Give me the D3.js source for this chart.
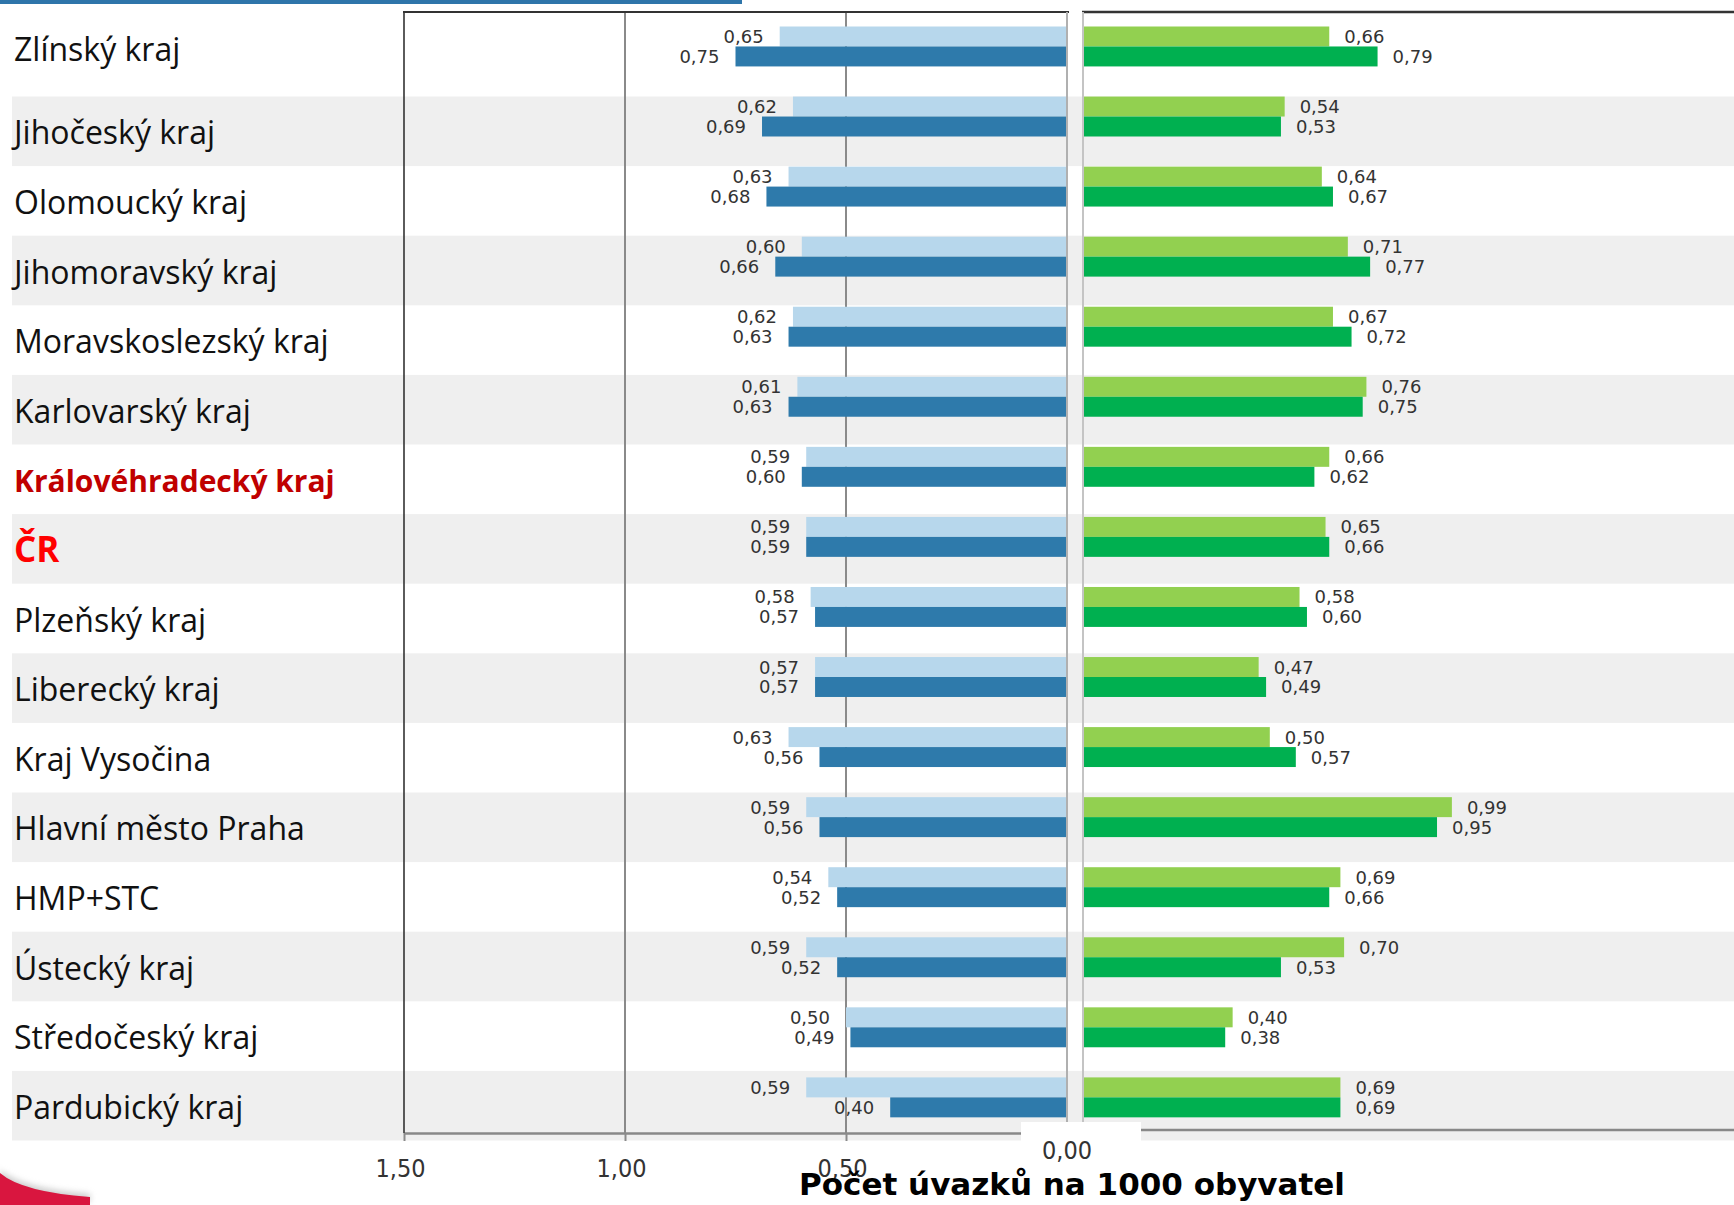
<!DOCTYPE html>
<html><head><meta charset="utf-8">
<script src="https://cdn.jsdelivr.net/npm/d3@7"></script>
<style>
html,body{margin:0;padding:0;background:#fff;}
svg{display:block;}
</style></head><body>
<svg id="chart" width="1734" height="1205"></svg>
<script>
// Regions (top to bottom) and the four values shown for each
const regions = ["Zlínský kraj", "Jihočeský kraj", "Olomoucký kraj", "Jihomoravský kraj",
  "Moravskoslezský kraj", "Karlovarský kraj", "Královéhradecký kraj", "ČR", "Plzeňský kraj",
  "Liberecký kraj", "Kraj Vysočina", "Hlavní město Praha", "HMP+STC", "Ústecký kraj",
  "Středočeský kraj", "Pardubický kraj"];
const blueLight  = [0.65, 0.62, 0.63, 0.60, 0.62, 0.61, 0.59, 0.59, 0.58, 0.57, 0.63, 0.59, 0.54, 0.59, 0.50, 0.59];
const blueDark   = [0.75, 0.69, 0.68, 0.66, 0.63, 0.63, 0.60, 0.59, 0.57, 0.57, 0.56, 0.56, 0.52, 0.52, 0.49, 0.40];
const greenLight = [0.66, 0.54, 0.64, 0.71, 0.67, 0.76, 0.66, 0.65, 0.58, 0.47, 0.50, 0.99, 0.69, 0.70, 0.40, 0.69];
const greenDark  = [0.79, 0.53, 0.67, 0.77, 0.72, 0.75, 0.62, 0.66, 0.60, 0.49, 0.57, 0.95, 0.66, 0.53, 0.38, 0.69];
const leftTicks = [1.5, 1.0, 0.5];
const leftGrid = [1.0, 0.5];
const zeroTick = 0;
const axisTitle = "Počet úvazků na 1000 obyvatel";

const W = 1734, H = 1205;
const svg = d3.select("#chart");
const fmt = v => d3.format(".2f")(v).replace(".", ",");

// label styling for highlighted rows
const labelStyle = {
  "Královéhradecký kraj": {fill: "#c00000", weight: 700, size: 30},
  "ČR": {fill: "#ff0000", weight: 700, size: 35}
};

// ---- table rows (band backgrounds + names) ----
const firstRowBottom = 96.5, rowH = 69.6;
const rowTop = i => i === 0 ? 0 : firstRowBottom + (i - 1) * rowH;
const rowBottom = i => firstRowBottom + i * rowH;

svg.append("g").selectAll("rect")
  .data(regions.map((r, i) => i).filter(i => i % 2 === 1))
  .join("rect")
  .attr("x", 12).attr("width", W - 12)
  .attr("y", i => rowTop(i)).attr("height", i => rowBottom(i) - rowTop(i))
  .attr("fill", "#efefef");

// ---- scales ----
const pad = 0.43, step = 70.06, barTop = 26.5;
const y = d3.scaleBand().domain(regions)
  .range([barTop, barTop + step * (regions.length - pad)])
  .paddingInner(pad).paddingOuter(0).align(0);
const ySub = d3.scaleBand().domain(["light", "dark"]).range([0, y.bandwidth()]);

const xLeft = d3.scaleLinear().domain([1.5, 0]).range([404, 1067]);
const xRight = d3.scaleLinear().domain([0, 1]).range([1084, 1084 + 371.6]);

const frameTop = 12, leftAxisY = 1133, rightAxisY = 1130;

// ---- left panel frame & gridlines ----
svg.append("g").selectAll("line").data(leftGrid).join("line")
  .attr("x1", d => xLeft(d)).attr("x2", d => xLeft(d))
  .attr("y1", frameTop).attr("y2", leftAxisY)
  .attr("stroke", "#8a8a8a").attr("stroke-width", 2);

const axisG = svg.append("g").attr("transform", `translate(0,${leftAxisY})`)
  .call(d3.axisBottom(xLeft).tickValues(leftTicks).tickSize(8).tickSizeOuter(0).tickFormat(fmt));
axisG.select(".domain").attr("stroke", "#888").attr("stroke-width", 2.5);
axisG.selectAll(".tick line").attr("stroke", "#8a8a8a").attr("stroke-width", 2);
axisG.selectAll(".tick text")
  .attr("y", 44).attr("dy", null).attr("dx", -4)
  .attr("fill", "#333")
  .style("font-family", "'DejaVu Sans Condensed', 'DejaVu Sans', sans-serif")
  .style("font-size", "25px");

svg.append("line").attr("x1", 404).attr("x2", 404).attr("y1", frameTop).attr("y2", leftAxisY)
  .attr("stroke", "#333").attr("stroke-width", 1.6);
svg.append("line").attr("x1", 403).attr("x2", 1069).attr("y1", frameTop).attr("y2", frameTop)
  .attr("stroke", "#333").attr("stroke-width", 2);

// ---- right panel frame ----
svg.append("line").attr("x1", 1082).attr("x2", W).attr("y1", frameTop).attr("y2", frameTop)
  .attr("stroke", "#333").attr("stroke-width", 2.5);
svg.append("line").attr("x1", 1083).attr("x2", 1083).attr("y1", frameTop).attr("y2", rightAxisY)
  .attr("stroke", "#c4c4c4").attr("stroke-width", 2);
svg.append("line").attr("x1", 1083).attr("x2", W).attr("y1", rightAxisY).attr("y2", rightAxisY)
  .attr("stroke", "#888").attr("stroke-width", 2.5);

// ---- bars ----
const rows = regions.map((r, i) => ({r, bl: blueLight[i], bd: blueDark[i], gl: greenLight[i], gd: greenDark[i]}));
const leftSeries = [{key: "light", acc: d => d.bl, color: "#b7d7ec"}, {key: "dark", acc: d => d.bd, color: "#2e7aab"}];
const rightSeries = [{key: "light", acc: d => d.gl, color: "#92d050"}, {key: "dark", acc: d => d.gd, color: "#00b050"}];

const barG = svg.append("g");
const lblG = svg.append("g")
  .style("font-family", "'DejaVu Sans', sans-serif").style("font-size", "18px").attr("fill", "#333");

leftSeries.forEach(s => {
  barG.selectAll(null).data(rows).join("rect")
    .attr("x", d => xLeft(s.acc(d))).attr("width", d => xLeft(0) - xLeft(s.acc(d)))
    .attr("y", d => y(d.r) + ySub(s.key)).attr("height", ySub.bandwidth())
    .attr("fill", s.color);
  lblG.selectAll(null).data(rows).join("text")
    .attr("x", d => xLeft(s.acc(d)) - 16)
    .attr("y", d => y(d.r) + ySub(s.key) + ySub.bandwidth() / 2)
    .attr("dy", "0.36em").attr("text-anchor", "end")
    .text(d => fmt(s.acc(d)));
});
rightSeries.forEach(s => {
  barG.selectAll(null).data(rows).join("rect")
    .attr("x", xRight(0)).attr("width", d => xRight(s.acc(d)) - xRight(0))
    .attr("y", d => y(d.r) + ySub(s.key)).attr("height", ySub.bandwidth())
    .attr("fill", s.color);
  lblG.selectAll(null).data(rows).join("text")
    .attr("x", d => xRight(s.acc(d)) + 15)
    .attr("y", d => y(d.r) + ySub(s.key) + ySub.bandwidth() / 2)
    .attr("dy", "0.36em").attr("text-anchor", "start")
    .text(d => fmt(s.acc(d)));
});

// zero line of the left panel
svg.append("line").attr("x1", xLeft(0)).attr("x2", xLeft(0)).attr("y1", frameTop).attr("y2", leftAxisY)
  .attr("stroke", "#b0b0b0").attr("stroke-width", 2);

// ---- row names ----
svg.append("g").selectAll("text").data(regions).join("text")
  .attr("x", 14)
  .attr("y", (d, i) => (rowTop(i) + rowBottom(i)) / 2 + 13)
  .attr("fill", d => labelStyle[d] ? labelStyle[d].fill : "#111")
  .style("font-family", "'Open Sans', sans-serif")
  .style("font-weight", d => labelStyle[d] ? labelStyle[d].weight : 400)
  .style("font-size", d => (labelStyle[d] ? labelStyle[d].size : 32) + "px")
  .text(d => d);

// ---- zero label in its white box ----
svg.append("rect").attr("x", 1021).attr("y", 1122).attr("width", 120).attr("height", 24).attr("fill", "#fff");
svg.append("text").attr("x", xLeft(zeroTick)).attr("y", 1159).attr("text-anchor", "middle")
  .attr("fill", "#333")
  .style("font-family", "'DejaVu Sans Condensed', 'DejaVu Sans', sans-serif").style("font-size", "25px")
  .text(fmt(zeroTick));

// ---- axis title ----
svg.append("text").attr("x", 1072).attr("y", 1195).attr("text-anchor", "middle")
  .attr("fill", "#000")
  .style("font-family", "'DejaVu Sans', sans-serif").style("font-weight", 700).style("font-size", "31px")
  .text(axisTitle);

// ---- page decorations ----
svg.append("rect").attr("x", 0).attr("y", 0).attr("width", 742).attr("height", 4).attr("fill", "#2e75aa");
const defs = svg.append("defs");
defs.append("filter").attr("id", "soft").attr("x", "-20%").attr("y", "-50%").attr("width", "140%").attr("height", "200%")
  .append("feGaussianBlur").attr("stdDeviation", 3);
const swoosh = "M0,1173 Q22,1192 90,1197 L90,1205 L0,1205 Z";
svg.append("path").attr("d", swoosh).attr("fill", "#999").attr("opacity", 0.5)
  .attr("transform", "translate(0,-3)").attr("filter", "url(#soft)");
svg.append("path").attr("d", swoosh).attr("fill", "#d9163f");
</script>
</body></html>
